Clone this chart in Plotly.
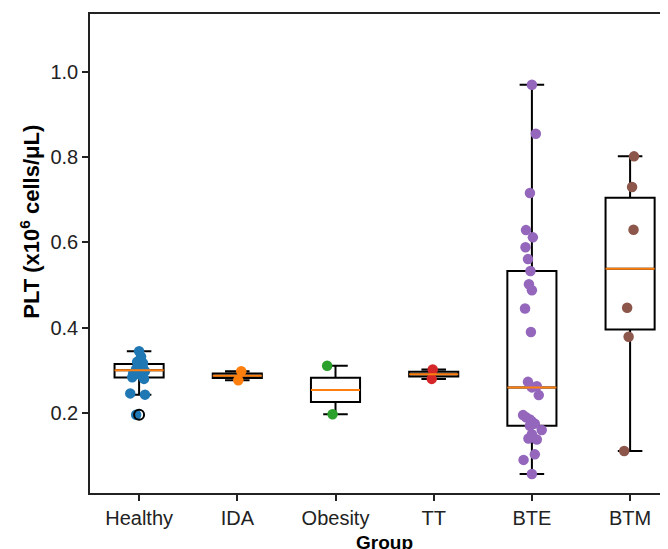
import numpy as np
import plotly.graph_objects as go

groups = ["Healthy", "IDA", "Obesity", "TT", "BTE", "BTM"]
colors = ["#1f77b4", "#ff7f0e", "#2ca02c", "#d62728", "#9467bd", "#8c564b"]

healthy = [0.196, 0.243, 0.246, 0.280, 0.284, 0.290, 0.293, 0.298, 0.303, 0.305,
           0.310, 0.314, 0.317, 0.320, 0.332, 0.345]
healthy_jit = [-0.03, 0.06, -0.09, 0.05, -0.07, 0.01, -0.06, 0.06, -0.03, 0.04,
               0.0, 0.03, 0.04, -0.02, 0.02, 0.0]
ida = [0.277, 0.298]
ida_jit = [0.01, 0.04]
obesity = [0.197, 0.311]
obesity_jit = [-0.03, -0.085]
tt = [0.280, 0.302]
tt_jit = [-0.02, -0.01]
bte = [0.057, 0.090, 0.103, 0.138, 0.140, 0.150, 0.160, 0.170, 0.175, 0.180,
       0.185, 0.190, 0.195, 0.242, 0.260, 0.263, 0.273, 0.390, 0.445, 0.488,
       0.502, 0.533, 0.561, 0.589, 0.612, 0.629, 0.716, 0.855, 0.970]
bte_jit = [0.0, -0.085, 0.03, 0.05, -0.035, 0.0, 0.1, -0.02, 0.03, 0.0,
           -0.02, -0.06, -0.09, 0.07, 0.0, 0.05, -0.04, -0.01, -0.07, 0.0,
           -0.03, -0.015, -0.04, -0.065, 0.01, -0.06, -0.02, 0.04, 0.0]
btm = [0.111, 0.379, 0.447, 0.630, 0.730, 0.802]
btm_jit = [-0.06, -0.015, -0.03, 0.035, 0.02, 0.04]

data = [healthy, ida, obesity, tt, bte, btm]
jits = [healthy_jit, ida_jit, obesity_jit, tt_jit, bte_jit, btm_jit]

fig = go.Figure()

# jittered points
for i, (vals, jit, c) in enumerate(zip(data, jits, colors)):
    fig.add_trace(go.Scatter(
        x=[i + j for j in jit], y=vals, mode="markers",
        marker=dict(color=c, size=10.5, line=dict(width=0)),
        showlegend=False, hoverinfo="skip"))

# box statistics (matplotlib style)
q1s, meds, q3s, los, his = [], [], [], [], []
fx, fy = [], []
for i, vals in enumerate(data):
    a = np.array(vals)
    q1, med, q3 = np.percentile(a, [25, 50, 75])
    iqr = q3 - q1
    lo = a[a >= q1 - 1.5 * iqr].min()
    hi = a[a <= q3 + 1.5 * iqr].max()
    q1s.append(q1); meds.append(med); q3s.append(q3); los.append(lo); his.append(hi)
    for v in a[(a < lo) | (a > hi)]:
        fx.append(i); fy.append(v)

fig.add_trace(go.Box(
    x=list(range(len(groups))), q1=q1s, median=meds, q3=q3s,
    lowerfence=los, upperfence=his, width=0.5, whiskerwidth=0.5,
    line=dict(color="black", width=2), fillcolor="rgba(0,0,0,0)",
    boxpoints=False, showlegend=False, hoverinfo="skip"))

# medians in orange
mx, my = [], []
for i, m in enumerate(meds):
    mx += [i - 0.25, i + 0.25, None]
    my += [m, m, None]
fig.add_trace(go.Scatter(x=mx, y=my, mode="lines",
                         line=dict(color="#ff7f0e", width=2),
                         showlegend=False, hoverinfo="skip"))

# fliers
fig.add_trace(go.Scatter(x=fx, y=fy, mode="markers",
                         marker=dict(symbol="circle-open", size=10, color="black",
                                     line=dict(width=2)),
                         showlegend=False, hoverinfo="skip"))

font = "Liberation Sans, Arial, sans-serif"
# page body has an 8px margin: figure is 660x541 so it ends at the window edge
fig.update_layout(
    width=660, height=541,
    margin=dict(l=82, r=0, t=6, b=56),
    paper_bgcolor="white", plot_bgcolor="white",
    font=dict(family=font, size=20, color="#222"),
    xaxis=dict(range=[-0.5, 5.386], tickmode="array",
               tickvals=list(range(len(groups))), ticktext=groups,
               showgrid=False, zeroline=False, showline=True, mirror=True,
               linecolor="#222", linewidth=1.5, ticks="outside", ticklen=6,
               tickwidth=1.5, tickcolor="#222"),
    yaxis=dict(range=[0.0123, 1.136], tickmode="array",
               tickvals=[0.2, 0.4, 0.6, 0.8, 1.0], tickformat=".1f",
               showgrid=False, zeroline=False, showline=True, mirror=False,
               linecolor="#222", linewidth=1.5, ticks="outside", ticklen=6,
               tickwidth=1.5, tickcolor="#222"),
    annotations=[
        dict(text="<b>PLT (x10<sup>6</sup> cells/μL)</b>", xref="paper", yref="paper",
             x=-0.104, y=0.566, xanchor="center", yanchor="middle",
             textangle=-90, showarrow=False, font=dict(size=22, color="black")),
        dict(text="<b>Group</b>", xref="paper", yref="paper",
             x=0.51, y=-0.103, xanchor="center", yanchor="middle",
             showarrow=False, font=dict(size=19, color="black")),
    ],
)

fig.write_html("out.html")
